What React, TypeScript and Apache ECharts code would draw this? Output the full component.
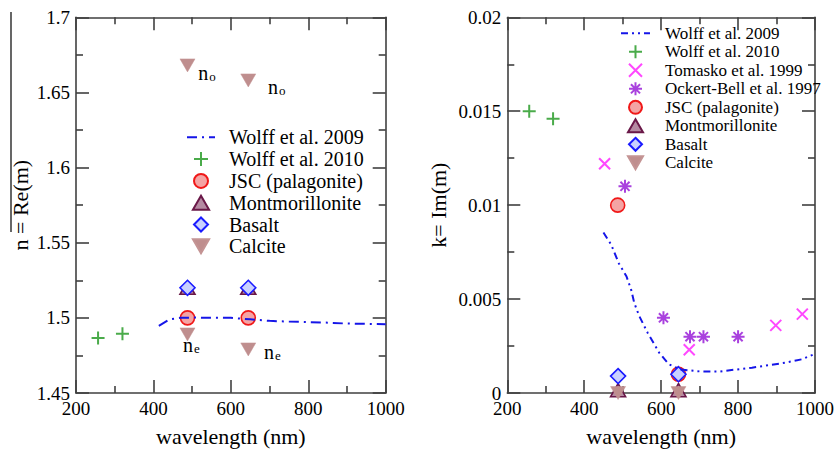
import React, { useEffect, useRef } from "react";
import * as echarts from "echarts";

// ---------- data ----------
// Left panel: real part n
const wolff2009N_wl = [414, 442, 470, 500, 550, 600, 650, 700, 750, 800, 850, 900, 950, 1000];
const wolff2009N = [1.4947, 1.499, 1.5, 1.5002, 1.5001, 1.5, 1.499, 1.498, 1.4975, 1.4972, 1.4968, 1.4962, 1.496, 1.4958];
const wolff2010N_wl = [257, 320];
const wolff2010N = [1.4866, 1.4895];
const jscN_wl = [488, 645];
const jscN = [1.5, 1.5];
const montN_wl = [488, 645];
const montN = [1.52, 1.52];
const basaltN_wl = [488, 645];
const basaltN = [1.52, 1.52];
const calciteN_wl = [488, 645, 488, 645];
const calciteN = [1.668, 1.658, 1.489, 1.479];
const calciteSub = ["o", "o", "e", "e"];

// Right panel: imaginary part k
const wolff2009K_wl = [450, 470, 490, 510, 522, 530, 543, 565, 595, 620, 650, 700, 750, 836, 922, 965, 1000];
const wolff2009K = [0.00854, 0.0079, 0.0069, 0.0062, 0.0055, 0.0048, 0.0041, 0.0032, 0.00214, 0.00153, 0.00125, 0.00115, 0.00114, 0.00135, 0.00161, 0.00179, 0.00208];
const wolff2010K_wl = [257, 319];
const wolff2010K = [0.015, 0.0146];
const tomaskoK_wl = [453, 673, 898, 967];
const tomaskoK = [0.0122, 0.0023, 0.0036, 0.0042];
const ockertK_wl = [506, 606, 675, 710, 800];
const ockertK = [0.011, 0.004, 0.003, 0.003, 0.003];
const jscK_wl = [487, 645];
const jscK = [0.01, 0.001];
const montK_wl = [488, 645];
const montK = [0.00015, 0.00015];
const basaltK_wl = [488, 645];
const basaltK = [0.0009, 0.001];
const calciteK_wl = [488, 645];
const calciteK = [0, 0];

const xTicks = { min: 200, max: 1000, interval: 200 };
const nTicks = { min: 1.45, max: 1.7, interval: 0.05 };
const kTicks = { min: 0, max: 0.02, interval: 0.005 };

const leftLegend = ["Wolff et al. 2009", "Wolff et al. 2010", "JSC (palagonite)", "Montmorillonite", "Basalt", "Calcite"];
const rightLegend = ["Wolff et al. 2009 ", "Wolff et al. 2010", "Tomasko et al. 1999", "Ockert-Bell et al. 1997", "JSC (palagonite)", "Montmorillonite", "Basalt", "Calcite"];

// ---------- styles ----------
const FONT = "Liberation Serif";
const AXIS_COLOR = "#404040";
const PLUS = "path://M5,0L5,10M0,5L10,5";
const CROSS = "path://M0,0L10,10M0,10L10,0";
const STAR = "path://M5,0L5,10M0,5L10,5M1.5,1.5L8.5,8.5M1.5,8.5L8.5,1.5";
const DOWN_TRI = "path://M0,0L10,0L5,8.66Z";
const UP_TRI = "path://M5,0L10,8.66L0,8.66Z";
const DIAMOND = "path://M5,0L10,5L5,10L0,5Z";
const CIRCLE = "path://M5,0A5,5 0 1,1 5,10A5,5 0 1,1 5,0Z";

const zip = (xs: number[], ys: number[]) => xs.map((x, i) => [x, ys[i]]);

const calciteLabelPos = [
  { position: "right", distance: 3, offset: [0, 8] },
  { position: "right", distance: 12, offset: [0, 7] },
  { position: "bottom", distance: -6, offset: [4, 0] },
  { position: "right", distance: 8, offset: [0, 3] },
];

const numFmt = (v: number) => String(v);

function axisBase(gridIndex: number) {
  return {
    type: "value",
    gridIndex,
    splitLine: { show: false },
    axisLine: { show: true, onZero: false, lineStyle: { color: AXIS_COLOR, width: 1.6 } },
    axisTick: { show: true, inside: true, length: 13, lineStyle: { color: AXIS_COLOR, width: 1.6 } },
    minorTick: { show: true, splitNumber: 2, length: 7, lineStyle: { color: AXIS_COLOR, width: 1.6 } },
  };
}

function xAxes(gridIndex: number) {
  const base = { ...axisBase(gridIndex), ...xTicks };
  return [
    {
      ...base,
      position: "bottom",
      name: "wavelength (nm)",
      nameLocation: "middle",
      nameGap: 32,
      nameTextStyle: { fontFamily: FONT, fontSize: 22, color: "#000" },
      axisLabel: { show: true, fontFamily: FONT, fontSize: 19, color: "#000", margin: 6, formatter: numFmt },
    },
    { ...base, position: "top", axisLabel: { show: false } },
  ];
}

function yAxes(gridIndex: number, ticks: any, name: string, nameGap: number) {
  const base = { ...axisBase(gridIndex), ...ticks };
  return [
    {
      ...base,
      position: "left",
      name,
      nameLocation: "middle",
      nameGap,
      nameTextStyle: { fontFamily: FONT, fontSize: 22, color: "#000" },
      axisLabel: { show: true, fontFamily: FONT, fontSize: 19, color: "#000", margin: 6, formatter: numFmt },
    },
    { ...base, position: "right", axisLabel: { show: false } },
  ];
}

function markerSeries(xi: number, yi: number) {
  const common = { type: "scatter", xAxisIndex: xi, yAxisIndex: yi, clip: false };
  return {
    plus: (name: string, d: number[][]) => ({
      ...common, name, data: d, symbol: PLUS, symbolSize: 13,
      itemStyle: { color: "#1d961d", borderColor: "#1d961d", borderWidth: 2 },
    }),
    cross: (name: string, d: number[][]) => ({
      ...common, name, data: d, symbol: CROSS, symbolSize: 11,
      itemStyle: { color: "#ff1aff", borderColor: "#ff1aff", borderWidth: 2 },
    }),
    star: (name: string, d: number[][]) => ({
      ...common, name, data: d, symbol: STAR, symbolSize: 13,
      itemStyle: { color: "#9412d6", borderColor: "#9412d6", borderWidth: 2 },
    }),
    circle: (name: string, d: number[][]) => ({
      ...common, name, data: d, symbol: CIRCLE, symbolSize: 14,
      itemStyle: { color: "#f4a4a4", borderColor: "#f01818", borderWidth: 1.6, opacity: 1 },
    }),
    tri: (name: string, d: number[][]) => ({
      ...common, name, data: d, symbol: UP_TRI, symbolSize: [15, 13],
      itemStyle: { color: "#b58aa2", borderColor: "#6a1848", borderWidth: 1.6, opacity: 1 },
    }),
    diamond: (name: string, d: number[][]) => ({
      ...common, name, data: d, symbol: DIAMOND, symbolSize: 15,
      itemStyle: { color: "#c9d0ff", borderColor: "#1a1aff", borderWidth: 1.6, opacity: 1 },
    }),
    down: (name: string, d: any[]) => ({
      ...common, name, data: d, symbol: DOWN_TRI, symbolSize: [15, 13],
      itemStyle: { color: "#bf8e8e", borderColor: "#c49494", borderWidth: 0.5, opacity: 1 },
    }),
  };
}

export default function App() {
  const ref = useRef<HTMLDivElement>(null);

  useEffect(() => {
    if (!ref.current) return;
    const chart = echarts.init(ref.current, undefined, { renderer: "svg" });
    const L = markerSeries(0, 0);
    const R = markerSeries(2, 2);

    const calciteData = zip(calciteN_wl, calciteN).map((v, i) => ({
      value: v,
      label: {
        show: true,
        position: calciteLabelPos[i].position,
        distance: calciteLabelPos[i].distance,
        offset: calciteLabelPos[i].offset,
        formatter: "{n|n}{s|" + calciteSub[i] + "}",
        rich: {
          n: { fontFamily: FONT, fontSize: 20, color: "#000", verticalAlign: "top", lineHeight: 20 },
          s: { fontFamily: FONT, fontSize: 13, color: "#000", verticalAlign: "bottom", lineHeight: 13, padding: [14, 0, 0, 1] },
        },
      },
    }));

    const legendCommon = { orient: "vertical", padding: 0, selectedMode: false };

    chart.setOption({
      animation: false,
      backgroundColor: "#fff",
      textStyle: { fontFamily: FONT },
      grid: [
        { left: 76, top: 17.3, width: 309.7, height: 380 },
        { left: 507.3, top: 17.3, width: 309.4, height: 380 },
      ],
      xAxis: [...xAxes(0), ...xAxes(1)],
      yAxis: [...yAxes(0, nTicks, "n = Re(m)", 45), ...yAxes(1, kTicks, "k= Im(m)", 58)],
      legend: [
        {
          ...legendCommon,
          left: 186,
          top: 127.3,
          itemWidth: 28,
          itemHeight: 14,
          itemGap: 1.8,
          data: leftLegend,
          textStyle: { fontFamily: FONT, fontSize: 20, color: "#000", padding: [0, 0, 0, 9] },
        },
        {
          ...legendCommon,
          left: 620,
          top: 24.8,
          itemWidth: 29,
          itemHeight: 13,
          itemGap: 1.5,
          data: rightLegend,
          formatter: (n: string) => n.trim(),
          textStyle: { fontFamily: FONT, fontSize: 17, color: "#000", padding: [0, 0, 0, 10] },
        },
      ],
      graphic: [
        { type: "line", shape: { x1: 11, y1: 12, x2: 11, y2: 232 }, style: { stroke: "#000", lineWidth: 1.2 } },
      ],
      series: [
        {
          type: "line", name: "Wolff et al. 2009", xAxisIndex: 0, yAxisIndex: 0,
          data: zip(wolff2009N_wl, wolff2009N), symbol: "none", smooth: false,
          lineStyle: { color: "#1515e8", width: 2, type: [10, 5, 2, 5] },
          itemStyle: { color: "rgba(0,0,0,0)", borderWidth: 0 },
        },
        L.plus("Wolff et al. 2010", zip(wolff2010N_wl, wolff2010N)),
        L.circle("JSC (palagonite)", zip(jscN_wl, jscN)),
        L.tri("Montmorillonite", zip(montN_wl, montN)),
        L.diamond("Basalt", zip(basaltN_wl, basaltN)),
        L.down("Calcite", calciteData),

        {
          type: "line", name: "Wolff et al. 2009 ", xAxisIndex: 2, yAxisIndex: 2,
          data: zip(wolff2009K_wl, wolff2009K), symbol: "none", smooth: false,
          lineStyle: { color: "#1515e8", width: 2, type: [7, 4, 2, 4, 2, 4] },
          itemStyle: { color: "rgba(0,0,0,0)", borderWidth: 0 },
        },
        R.plus("Wolff et al. 2010", zip(wolff2010K_wl, wolff2010K)),
        R.cross("Tomasko et al. 1999", zip(tomaskoK_wl, tomaskoK)),
        R.star("Ockert-Bell et al. 1997", zip(ockertK_wl, ockertK)),
        R.circle("JSC (palagonite)", zip(jscK_wl, jscK)),
        R.tri("Montmorillonite", zip(montK_wl, montK)),
        R.diamond("Basalt", zip(basaltK_wl, basaltK)),
        R.down("Calcite", zip(calciteK_wl, calciteK)),
      ],
    });
    return () => chart.dispose();
  }, []);

  return <div ref={ref} style={{ position: "fixed", left: 0, top: 0, width: 837, height: 452 }} />;
}
